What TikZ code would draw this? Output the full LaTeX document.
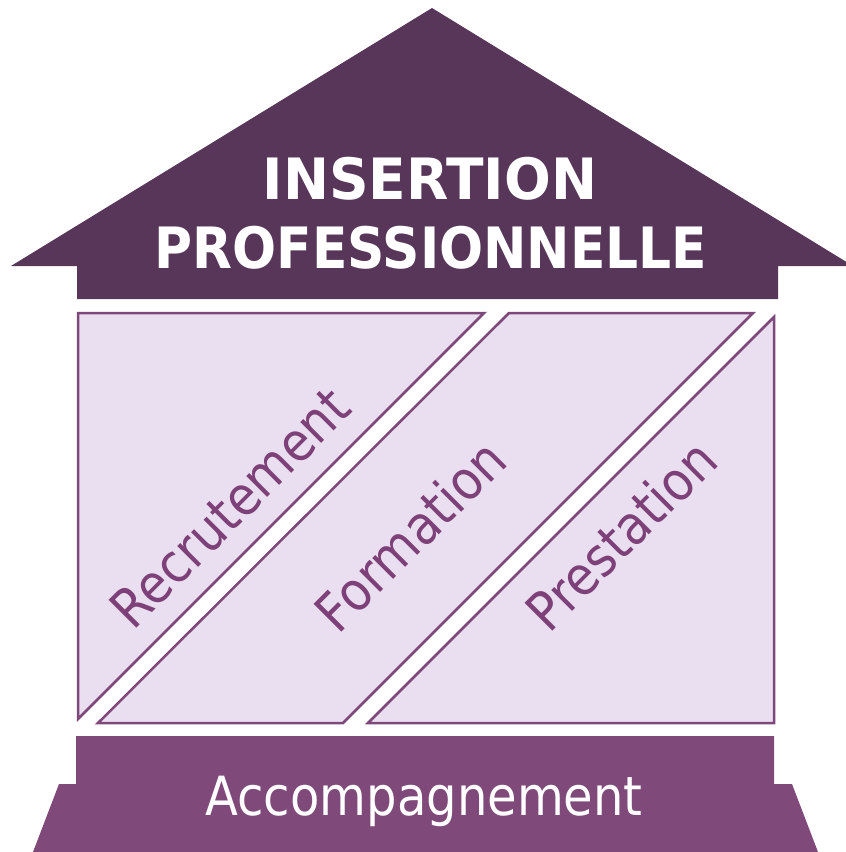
\documentclass[tikz,border=0pt]{standalone}
\usepackage{fontspec}
\setmainfont{DejaVu Sans}
\definecolor{roofcol}{RGB}{87,54,89}
\definecolor{basecol}{RGB}{127,74,121}
\definecolor{panelfill}{RGB}{234,223,240}
\definecolor{panelline}{RGB}{126,72,122}
\definecolor{paneltextcol}{RGB}{125,64,120}
\begin{document}
\begin{tikzpicture}[x=1pt,y=-1pt,
  panel/.style={fill=panelfill,draw=panelline,line width=2.5pt,line join=miter},
  paneltext/.style={text=paneltextcol,rotate=45,inner sep=0pt,anchor=center,font=\fontsize{54}{58}\selectfont},
  titletext/.style={text=white,inner sep=0pt,anchor=base,font=\bfseries\fontsize{57}{60}\selectfont},
  basetext/.style={text=white,inner sep=0pt,anchor=base,font=\fontsize{54}{60}\selectfont}]
\useasboundingbox (0,0) rectangle (846,852);
% roof
\fill[roofcol] (11,266) -- (432,8) -- (846,261.7) -- (846,266) -- (778,266) -- (778,299) -- (77,299) -- (77,266) -- cycle;
% panels
\draw[panel] (78,313) -- (484,313) -- (78,719) -- cycle;
\draw[panel] (509,313) -- (753,313) -- (343,723) -- (98,723) -- cycle;
\draw[panel] (774,317) -- (774,723) -- (368,723) -- cycle;
% base
\fill[basecol] (76,736) -- (774,736) -- (774,784) -- (792,784) -- (818,852) -- (33,852) -- (59,784) -- (76,784) -- cycle;
% texts
\node[titletext] (t1) at (430,199) {\scalebox{0.965}[1]{INSERTION}};
\node[titletext] (t2) at (431,268) {\scalebox{0.91}[1]{PROFESSIONNELLE}};
\node[paneltext] (p1) at (230,508) {\scalebox{0.89}[1]{Recrutement}};
\node[paneltext] (p2) at (410,535) {\scalebox{0.89}[1]{Formation}};
\node[paneltext] (p3) at (621,535) {\scalebox{0.89}[1]{Prestation}};
\node[basetext] (b) at (424,815) {\scalebox{0.89}[1]{Accompagnement}};
\end{tikzpicture}
\end{document}
